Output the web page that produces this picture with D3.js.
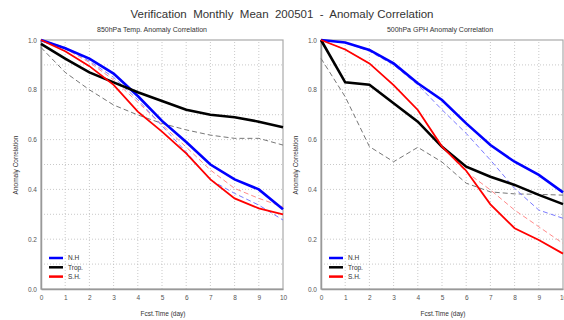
<!DOCTYPE html>
<html>
<head>
<meta charset="utf-8">
<script src="https://cdn.jsdelivr.net/npm/d3@7"></script>
<style>
  body { margin: 0; background: #fff; }
  text { font-family: "Liberation Sans", Arial, sans-serif; fill: #333; }
</style>
</head>
<body>
<svg id="chart" width="564" height="320"></svg>
<script>
const days = [0, 1, 2, 3, 4, 5, 6, 7, 8, 9, 10];
const yTicks = [0, 0.2, 0.4, 0.6, 0.8, 1.0];
const legendNames = ["N.H", "Trop.", "S.H."];

// 850hPa temperature
const t850NH      = [1.0, 0.967, 0.925, 0.865, 0.775, 0.675, 0.59, 0.5, 0.44, 0.4, 0.32];
const t850Trop    = [0.984, 0.925, 0.87, 0.83, 0.79, 0.755, 0.72, 0.70, 0.69, 0.672, 0.65];
const t850SH      = [1.0, 0.955, 0.895, 0.82, 0.712, 0.632, 0.545, 0.44, 0.364, 0.324, 0.30];
const t850NHPrev  = [1.0, 0.97, 0.915, 0.85, 0.76, 0.655, 0.55, 0.438, 0.384, 0.337, 0.277];
const t850TropPrev = [0.97, 0.87, 0.80, 0.739, 0.699, 0.665, 0.639, 0.618, 0.605, 0.605, 0.578];
const t850SHPrev  = [1.0, 0.965, 0.91, 0.84, 0.75, 0.66, 0.57, 0.478, 0.404, 0.364, 0.33];

// 500hPa geopotential height
const z500NH      = [1.0, 0.99, 0.96, 0.906, 0.826, 0.759, 0.665, 0.578, 0.511, 0.458, 0.388];
const z500Trop    = [1.0, 0.83, 0.82, 0.746, 0.672, 0.571, 0.491, 0.451, 0.418, 0.378, 0.341];
const z500SH      = [1.0, 0.962, 0.906, 0.819, 0.719, 0.572, 0.475, 0.34, 0.244, 0.197, 0.142];
const z500NHPrev  = [1.0, 0.99, 0.955, 0.90, 0.82, 0.72, 0.625, 0.518, 0.404, 0.317, 0.284];
const z500TropPrev = [0.926, 0.772, 0.572, 0.511, 0.569, 0.51, 0.425, 0.39, 0.382, 0.38, 0.377];
const z500SHPrev  = [1.0, 0.962, 0.906, 0.819, 0.719, 0.572, 0.47, 0.398, 0.317, 0.25, 0.183];

const svg = d3.select("#chart");

svg.append("text")
  .attr("x", 282).attr("y", 18)
  .attr("text-anchor", "middle")
  .style("font-size", "11.5px")
  .style("white-space", "pre")
  .text("Verification  Monthly  Mean  200501  -  Anomaly Correlation");

function drawPanel(left, subtitle, subX, solids, dashed) {
  const x = d3.scaleLinear().domain([0, 10]).range([left, left + 242]);
  const y = d3.scaleLinear().domain([0, 1]).range([289, 40]);
  const g = svg.append("g");

  g.append("text")
    .attr("x", subX).attr("y", 32)
    .attr("text-anchor", "middle")
    .style("font-size", "7px")
    .text(subtitle);

  // grid
  g.append("g").selectAll("line.v")
    .data(days.slice(1, -1))
    .join("line")
    .attr("x1", d => x(d)).attr("x2", d => x(d))
    .attr("y1", y(0)).attr("y2", y(1))
    .attr("stroke", "#bbb").attr("stroke-width", 0.8)
    .attr("stroke-dasharray", "1,2");
  g.append("g").selectAll("line.h")
    .data(d3.range(1, 10).map(i => i / 10))
    .join("line")
    .attr("x1", x(0)).attr("x2", x(10))
    .attr("y1", d => y(d)).attr("y2", d => y(d))
    .attr("stroke", "#bbb").attr("stroke-width", 0.8)
    .attr("stroke-dasharray", "1,2");

  g.append("rect")
    .attr("x", x(0)).attr("y", y(1))
    .attr("width", x(10) - x(0)).attr("height", y(0) - y(1))
    .attr("fill", "none").attr("stroke", "#aaa").attr("stroke-width", 1.2);

  // axes
  const xAxis = g.append("g")
    .attr("transform", `translate(0,${y(0)})`)
    .call(d3.axisBottom(x).tickValues(days).tickSize(0).tickPadding(6));
  const yAxis = g.append("g")
    .attr("transform", `translate(${x(0)},0)`)
    .call(d3.axisLeft(y).tickValues(yTicks).tickFormat(d3.format(".1f")).tickSize(0).tickPadding(4));
  [xAxis, yAxis].forEach(a => {
    a.select(".domain").attr("stroke", "#999").attr("stroke-width", 1.5);
    a.selectAll("text").style("font-size", "6.5px").style("fill", "#555")
      .style("font-family", "'Liberation Sans', Arial, sans-serif");
  });

  g.append("text")
    .attr("transform", `translate(${left - 23},165) rotate(-90)`)
    .attr("text-anchor", "middle")
    .style("font-size", "6.5px")
    .text("Anomaly Correlation");
  g.append("text")
    .attr("x", left + 122).attr("y", 316)
    .attr("text-anchor", "middle")
    .style("font-size", "6.5px")
    .text("Fcst.Time (day)");

  const line = d3.line().x((d, i) => x(days[i])).y(d => y(d));

  dashed.forEach(s => {
    g.append("path").datum(s.values)
      .attr("d", line).attr("fill", "none")
      .attr("stroke", s.color).attr("stroke-width", 1)
      .attr("stroke-dasharray", "5,3");
  });
  solids.forEach(s => {
    g.append("path").datum(s.values)
      .attr("d", line).attr("fill", "none")
      .attr("stroke", s.color).attr("stroke-width", s.width);
  });

  // legend
  const leg = g.append("g").selectAll("g")
    .data(solids)
    .join("g")
    .attr("transform", (d, i) => `translate(${left + 8},${258 + i * 9.3})`);
  leg.append("line")
    .attr("x1", 0).attr("x2", 14)
    .attr("stroke", d => d.color).attr("stroke-width", 2.5);
  leg.append("text")
    .attr("x", 19).attr("y", 2.3)
    .style("font-size", "6.5px")
    .text((d, i) => legendNames[i]);
}

drawPanel(41, "850hPa Temp. Anomaly Correlation", 152,
  [{ values: t850NH, color: "#0000ff", width: 2.6 },
   { values: t850Trop, color: "#000000", width: 2.6 },
   { values: t850SH, color: "#ff0000", width: 1.8 }],
  [{ values: t850TropPrev, color: "#777" },
   { values: t850SHPrev, color: "#ff8a8a" },
   { values: t850NHPrev, color: "#7a7aff" }]);

drawPanel(321, "500hPa GPH Anomaly Correlation", 440,
  [{ values: z500NH, color: "#0000ff", width: 2.6 },
   { values: z500Trop, color: "#000000", width: 2.6 },
   { values: z500SH, color: "#ff0000", width: 1.8 }],
  [{ values: z500TropPrev, color: "#777" },
   { values: z500SHPrev, color: "#ff8a8a" },
   { values: z500NHPrev, color: "#7a7aff" }]);
</script>
</body>
</html>
